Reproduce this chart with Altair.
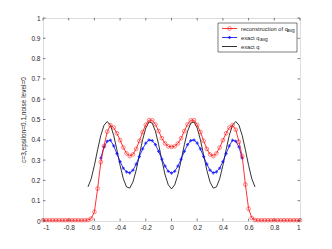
import altair as alt
import pandas as pd

# ---- data ----
red_x = [round(-1 + 0.025 * i, 3) for i in range(81)]
red_left_tail = [0.004] * 14
red_core = [0.005, 0.012, 0.045, 0.16, 0.29, 0.37, 0.44, 0.472, 0.46, 0.432, 0.398, 0.362, 0.333,
            0.32, 0.328, 0.355, 0.395, 0.438, 0.474, 0.497, 0.496, 0.476, 0.443, 0.408, 0.382, 0.368,
            0.365,
            0.368, 0.382, 0.408, 0.443, 0.476, 0.496, 0.497, 0.474, 0.438, 0.395, 0.355, 0.328,
            0.32, 0.333, 0.362, 0.398, 0.432, 0.46, 0.472, 0.45, 0.39, 0.32, 0.18, 0.06, 0.015, 0.005]
red_right_tail = [0.004] * 14
red_y = red_left_tail + red_core + red_right_tail

blue_x = [round(-0.55 + 0.025 * i, 3) for i in range(45)]
blue_y = [0.31, 0.365, 0.393, 0.398, 0.37, 0.332, 0.293, 0.26, 0.242, 0.237, 0.25, 0.28,
          0.317, 0.355, 0.384, 0.399, 0.396, 0.376, 0.343, 0.305, 0.27, 0.245, 0.236,
          0.245, 0.27, 0.305, 0.343, 0.376, 0.396, 0.399, 0.384, 0.355, 0.317, 0.28, 0.25,
          0.237, 0.242, 0.26, 0.293, 0.332, 0.37, 0.398, 0.393, 0.365, 0.31]

black_x = [round(-0.65 + 0.025 * i, 3) for i in range(53)]
black_y = [0.168, 0.208, 0.274, 0.351, 0.422, 0.472, 0.49, 0.472, 0.422, 0.351, 0.274, 0.208,
           0.168, 0.162, 0.192, 0.25, 0.325, 0.4, 0.458, 0.488, 0.482, 0.442, 0.376, 0.299,
           0.228, 0.178, 0.158,
           0.178, 0.228, 0.299, 0.376, 0.442, 0.482, 0.488, 0.458, 0.4, 0.325, 0.25, 0.192,
           0.162, 0.168, 0.208, 0.274, 0.351, 0.422, 0.472, 0.49, 0.472, 0.422, 0.351, 0.274,
           0.208, 0.168]

x_ticks = [-1, -0.8, -0.6, -0.4, -0.2, 0, 0.2, 0.4, 0.6, 0.8, 1]
y_ticks = [0, 0.1, 0.2, 0.3, 0.4, 0.5, 0.6, 0.7, 0.8, 0.9, 1]

W, H = 257, 203
AX = "#262626"
FONT = "Liberation Sans"
LBL = "replace(format(datum.value, '~g'), '\u2212', '-')"

red_df = pd.DataFrame({"x": red_x, "y": red_y})
blue_df = pd.DataFrame({"x": blue_x, "y": blue_y})
black_df = pd.DataFrame({"x": black_x, "y": black_y})
xt_df = pd.DataFrame({"x": x_ticks})
yt_df = pd.DataFrame({"y": y_ticks})

xs = alt.Scale(domain=[-1, 1], nice=False, zero=False)
ys = alt.Scale(domain=[0, 1], nice=False, zero=False)

xaxis = alt.Axis(values=x_ticks, title=None, grid=False, ticks=False, domain=False,
                 labelFontSize=6.5, labelFont=FONT, labelColor=AX, labelPadding=3,
                 labelExpr=LBL)
yaxis = alt.Axis(values=y_ticks, title="c=3,epsilon=0.1,noise level=0", grid=False,
                 ticks=False, domain=False, labelFontSize=6.5, labelFont=FONT,
                 labelColor=AX, labelPadding=3, titleFontSize=6.5, titleFont=FONT,
                 titleFontWeight="normal", titleColor=AX, titlePadding=4,
                 labelExpr=LBL)

X = alt.X("x:Q", scale=xs, axis=xaxis)
Y = alt.Y("y:Q", scale=ys, axis=yaxis)

black = alt.Chart(black_df).mark_line(color="black", strokeWidth=0.8).encode(x=X, y=Y)
blue_line = alt.Chart(blue_df).mark_line(color="#0000ff", strokeWidth=0.8).encode(x=X, y=Y)
blue_pts = alt.Chart(blue_df).mark_point(shape="cross", filled=True, color="#0000ff",
                                         size=10).encode(x=X, y=Y)
red_line = alt.Chart(red_df).mark_line(color="#ff0000", strokeWidth=0.8).encode(x=X, y=Y)
red_pts = alt.Chart(red_df).mark_point(shape="circle", filled=False, color="#ff0000",
                                       size=14, strokeWidth=0.7).encode(x=X, y=Y)

tk = dict(color=AX, strokeWidth=0.6)
tick_b = alt.Chart(xt_df).mark_rule(**tk).encode(x=alt.X("x:Q", scale=xs, axis=xaxis),
                                                 y=alt.value(H), y2=alt.value(H - 2.5))
tick_t = alt.Chart(xt_df).mark_rule(**tk).encode(x=alt.X("x:Q", scale=xs, axis=xaxis),
                                                 y=alt.value(0), y2=alt.value(2.5))
tick_l = alt.Chart(yt_df).mark_rule(**tk).encode(y=alt.Y("y:Q", scale=ys, axis=yaxis),
                                                 x=alt.value(0), x2=alt.value(2.5))
tick_r = alt.Chart(yt_df).mark_rule(**tk).encode(y=alt.Y("y:Q", scale=ys, axis=yaxis),
                                                 x=alt.value(W), x2=alt.value(W - 2.5))

# ---- legend (manual, to allow subscripts) ----
one = pd.DataFrame({"a": [0]})
lx0, lx1, ly0, ly1 = 175, 254, 5, 34
rows = [10.5, 19.5, 28.5]
box = alt.Chart(one).mark_rect(fill="white", stroke=AX, strokeWidth=0.6).encode(
    x=alt.value(lx0), x2=alt.value(lx1), y=alt.value(ly0), y2=alt.value(ly1))
leg = [box]
cols = ["#ff0000", "#0000ff", "black"]
for r, c in zip(rows, cols):
    leg.append(alt.Chart(one).mark_rule(color=c, strokeWidth=0.8).encode(
        x=alt.value(179), x2=alt.value(194), y=alt.value(r)))
leg.append(alt.Chart(one).mark_point(shape="circle", filled=False, color="#ff0000",
                                     size=14, strokeWidth=0.7).encode(
    x=alt.value(186.5), y=alt.value(rows[0])))
leg.append(alt.Chart(one).mark_point(shape="cross", filled=True, color="#0000ff",
                                     size=10).encode(x=alt.value(186.5), y=alt.value(rows[1])))
txt = dict(font=FONT, fontSize=5.7, color=AX, align="left", baseline="middle")
sub = dict(font=FONT, fontSize=4.8, color=AX, align="left", baseline="middle")
leg.append(alt.Chart(one).mark_text(text="reconstruction of q", **txt).encode(
    x=alt.value(198), y=alt.value(rows[0])))
leg.append(alt.Chart(one).mark_text(text="avg", **sub).encode(
    x=alt.value(244), y=alt.value(rows[0] + 2)))
leg.append(alt.Chart(one).mark_text(text="exact q", **txt).encode(
    x=alt.value(198), y=alt.value(rows[1])))
leg.append(alt.Chart(one).mark_text(text="avg", **sub).encode(
    x=alt.value(217), y=alt.value(rows[1] + 2)))
leg.append(alt.Chart(one).mark_text(text="exact q", **txt).encode(
    x=alt.value(198), y=alt.value(rows[2])))

chart = alt.layer(
    black, blue_line, blue_pts, red_line, red_pts,
    tick_b, tick_t, tick_l, tick_r, *leg
).properties(
    width=W, height=H,
    autosize=alt.AutoSizeParams(type="none"),
    padding={"left": 35, "top": 10, "right": 16, "bottom": 20},
).configure_view(stroke=AX, strokeWidth=0.6).configure(background="white")

chart.save("out.html", embed_options={"renderer": "svg", "actions": False})
